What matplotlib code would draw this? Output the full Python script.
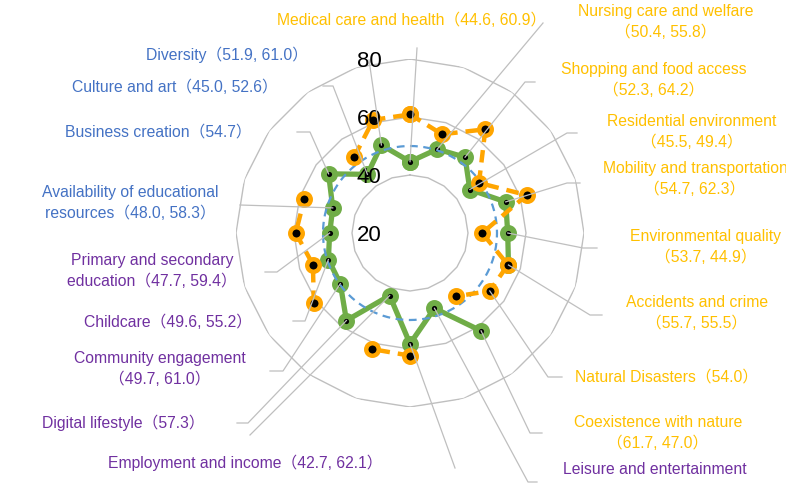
import numpy as np
import matplotlib
matplotlib.use('Agg')
import matplotlib.pyplot as plt
from matplotlib.lines import Line2D
from matplotlib.transforms import offset_copy

plt.rcParams['font.family'] = ['Liberation Sans', 'Noto Sans CJK JP']

# 20 spokes, clockwise from the top
categories = [
    'Medical care and health', 'Nursing care and welfare', 'Shopping and food access',
    'Residential environment', 'Mobility and transportation', 'Environmental quality',
    'Accidents and crime', 'Natural Disasters', 'Coexistence with nature',
    'Leisure and entertainment', '', 'Employment and income', 'Digital lifestyle',
    'Community engagement', 'Childcare', 'Primary and secondary education',
    'Availability of educational resources', 'Business creation', 'Culture and art',
    'Diversity',
]
series_green = [44.6, 50.4, 52.3, 45.5, 54.7, 53.7, 55.7, np.nan, 61.7, 47.3,
                58.2, 42.7, 57.3, 49.7, 49.6, 47.7, 48.0, 54.7, 45.0, 51.9]
series_orange = [60.9, 55.8, 64.2, 49.4, 62.3, 44.9, 55.5, 54.0, 47.0, np.nan,
                 62.3, 62.1, np.nan, 61.0, 55.2, 59.4, 58.3, np.nan, 52.6, 61.0]
baseline = 50
grid_levels = [40, 60, 80]
r_ticks = [20, 40, 60, 80]

label_texts = [
    'Medical care and health（44.6, 60.9）',
    'Nursing care and welfare\n（50.4, 55.8）',
    'Shopping and food access\n（52.3, 64.2）',
    'Residential environment\n（45.5, 49.4）',
    'Mobility and transportation\n（54.7, 62.3）',
    'Environmental quality\n（53.7, 44.9）',
    'Accidents and crime\n（55.7, 55.5）',
    'Natural Disasters（54.0）',
    'Coexistence with nature\n（61.7, 47.0）',
    'Leisure and entertainment',
    '',
    'Employment and income（42.7, 62.1）',
    'Digital lifestyle（57.3）',
    'Community engagement\n（49.7, 61.0）',
    'Childcare（49.6, 55.2）',
    'Primary and secondary\neducation（47.7, 59.4）',
    'Availability of educational\nresources（48.0, 58.3）',
    'Business creation（54.7）',
    'Culture and art（45.0, 52.6）',
    'Diversity（51.9, 61.0）',
]

YELLOW, PURPLE, BLUE = '#FFC000', '#7030A0', '#4472C4'
label_colors = [YELLOW] * 9 + [PURPLE] * 7 + [BLUE] * 4

# label centre and leader elbows, in image pixels (origin top-left)
label_layout = [
    ((412, 20), [(417, 48)]),
    ((666, 22), [(543, 23)]),
    ((654, 80), [(525, 82), (535, 82)]),
    ((692, 132), [(567, 133), (577, 133)]),
    ((695, 179), [(567, 183), (580, 183)]),
    ((706, 247), [(583, 248), (597, 248)]),
    ((697, 313), [(590, 315), (602, 315)]),
    ((667, 377), [(548, 377), (562, 377)]),
    ((658, 433), [(530, 433), (542, 433)]),
    ((655, 469), [(528, 482), (537, 482)]),
    ((455, 500), [(455, 468)]),
    ((245, 463), [(250, 435)]),
    ((123, 423), [(248, 423), (237, 423)]),
    ((160, 369), [(283, 371), (270, 371)]),
    ((168, 322), [(305, 321), (293, 321)]),
    ((152, 271), [(277, 272), (265, 272)]),
    ((130, 203), [(240, 205)]),
    ((158, 132), [(310, 132), (297, 132)]),
    ((175, 87), [(333, 86), (323, 86)]),
    ((227, 55), [(369, 60)]),
]

W, H = 786, 484
fig = plt.figure(figsize=(W / 100, H / 100), dpi=100)

cx, cy, R = 410, 233, 174
ax = fig.add_axes([(cx - R) / W, (H - cy - R) / H, 2 * R / W, 2 * R / H],
                  projection='polar')
ax.set_theta_zero_location('N')
ax.set_theta_direction(-1)
ax.set_ylim(20, 80)
ax.grid(False)
ax.set_xticks([])
ax.set_yticks([])
ax.spines['polar'].set_visible(False)
ax.patch.set_alpha(0)

n = len(categories)
theta = np.arange(n) * 2 * np.pi / n
theta_c = np.append(theta, theta[0])

def closed(vals):
    v = np.asarray(vals, dtype=float)
    return np.append(v, v[0])

for lvl in grid_levels:
    ax.plot(theta_c, [lvl] * (n + 1), color='#BFBFBF', lw=1.0, zorder=1)

ax.plot(theta_c, closed(series_green), color='#70AD47', lw=3.8,
        marker='o', ms=8, mfc='black', mec='#70AD47', mew=4.2, zorder=3,
        clip_on=False)

circ = np.linspace(0, 2 * np.pi, 361)
ax.plot(circ, [baseline] * len(circ), color='#5B9BD5', lw=1.6,
        dashes=(3.5, 2.5), zorder=4)

ax.plot(theta_c, closed(series_orange), color='#FFA500', lw=3.2,
        dashes=(2.8, 1.8), marker='o', ms=9, mfc='black', mec='#FFA500',
        mew=3.2, zorder=5, clip_on=False)

tick_tr = offset_copy(ax.transData, fig=fig, x=-41, y=0, units='dots')
for t in r_ticks:
    ax.text(0, t, str(t), transform=tick_tr, ha='center', va='center_baseline',
            fontsize=16, color='black', zorder=10)

to_fig = fig.transFigure.inverted()
for i in range(n):
    val = series_green[i] if not np.isnan(series_green[i]) else series_orange[i]
    start = to_fig.transform(ax.transData.transform((theta[i], val)))
    (lx, ly), elbows = label_layout[i]
    xs = [start[0]] + [x / W for x, y in elbows]
    ys = [start[1]] + [1 - y / H for x, y in elbows]
    fig.add_artist(Line2D(xs, ys, transform=fig.transFigure, color='#BFBFBF',
                          lw=0.9, zorder=6))
    if label_texts[i]:
        fig.text(lx / W, 1 - ly / H, label_texts[i], ha='center', va='center',
                 multialignment='center', color=label_colors[i], fontsize=11.3,
                 linespacing=1.5)

fig.savefig('out.png', dpi=100)
